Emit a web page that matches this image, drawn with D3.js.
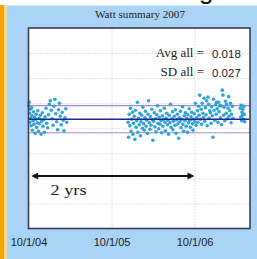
<!DOCTYPE html>
<html>
<head>
<meta charset="utf-8">
<script src="https://cdn.jsdelivr.net/npm/d3@7"></script>
<style>
  body { margin: 0; background: #fff; }
  svg { display: block; }
</style>
</head>
<body>
<div id="chart"></div>
<script>
var width = 257,
    height = 259;

// chart values
var chartTitle = 'Watt summary 2007';
var startDate = new Date(2004, 9, 1);
var endDate = new Date(2007, 5, 2);
var tickDates = [new Date(2004, 9, 1), new Date(2005, 9, 1), new Date(2006, 9, 1)];
var tickLabels = ['10/1/04', '10/1/05', '10/1/06'];
var gridValues = [-0.15, -0.1, -0.05, 0, 0.05, 0.1, 0.15];
var avgAll = 0.018;
var sdAll = 0.027;

// [days since 10/1/04, watt]
var winterSamples = [
  [1,0.045],[3,0.052],[5,0.030],[6,0.012],[8,0.038],[10,0.020],[12,0.005],[14,0.041],
  [15,0.025],[17,-0.004],[20,0.015],[22,0.033],[24,0.008],[27,0.022],[29,-0.010],[31,0.018],
  [34,0.028],[36,0.002],[39,0.011],[41,0.035],[44,-0.006],[46,0.020],[49,0.009],[52,0.026],
  [55,-0.012],[58,0.014],[61,0.031],[64,0.004],[67,0.017],[70,-0.008],[73,0.023],[77,0.040],
  [80,0.010],[84,0.001],[88,0.027],[92,0.048],[96,0.055],[100,0.036],[104,0.019],[108,0.006],
  [112,0.044],[116,0.058],[120,0.029],[124,0.013],[128,-0.003],[132,0.037],[136,0.050],[140,0.024],
  [144,0.007],[148,0.032],[152,0.016],[156,-0.005],[160,0.021],[164,0.039],[168,0.012]
];

var mainSamples = [
  [438,0.012],[440,-0.018],[443,0.028],[446,0.005],[449,0.040],[451,-0.006],[454,0.018],[457,0.032],
  [459,-0.012],[462,0.010],[465,0.024],[468,-0.022],[470,0.036],[473,0.002],[476,0.015],[479,0.052],
  [481,-0.008],[484,0.020],[487,0.007],[490,0.030],[492,-0.015],[495,0.013],[498,0.026],[501,0.000],
  [503,0.042],[506,0.009],[509,-0.004],[512,0.021],[514,0.034],[517,0.004],[520,0.016],[523,-0.010],
  [525,0.028],[528,0.055],[531,0.011],[534,-0.002],[536,0.023],[539,0.006],[542,0.038],[545,0.017],
  [547,-0.024],[550,0.014],[553,0.031],[556,0.003],[558,0.019],[561,-0.007],[564,0.027],[567,0.045],
  [569,0.010],[572,-0.001],[575,0.022],[578,0.008],[580,0.035],[583,0.015],[586,-0.009],[589,0.025],
  [591,0.004],[594,0.018],[597,0.040],[600,0.012],[602,-0.005],[605,0.020],[608,0.030],[611,0.007],
  [613,0.016],[616,-0.012],[619,0.026],[622,0.011],[624,0.048],[627,0.002],[630,0.019],[633,0.033],
  [635,-0.003],[638,0.014],[641,0.024],[644,0.006],[646,0.037],[649,-0.010],[652,0.017],[655,0.028],
  [657,0.009],[660,-0.020],[663,0.021],[666,0.013],[668,0.034],[671,0.001],[674,0.018],[677,0.043],
  [679,0.008],[682,-0.006],[685,0.025],[688,0.015],[690,0.031],[693,0.004],[696,0.020],[699,-0.008],
  [701,0.027],[704,0.011],[707,0.039],[710,0.016],[712,0.002],[715,0.023],[718,0.032],[721,0.009],
  [723,-0.004],[726,0.018],[729,0.029],[732,0.013],[734,0.050],[737,0.006],[740,0.021],[743,0.035],
  [745,0.012],[748,0.044],[750,0.026],[753,0.066],[756,0.018],[759,0.038],[761,0.008],[764,0.050],
  [767,0.030],[770,0.022],[772,0.060],[775,0.014],[778,0.041],[781,0.027],[783,0.055],[786,0.005],
  [789,0.062],[792,0.048],[794,0.020],[797,0.035],[800,0.031],[803,0.010],[805,0.043],[808,0.025],
  [811,-0.018],[814,0.058],[816,0.036],[819,0.016],[822,0.047],[825,0.028],[827,0.052],[830,0.039],
  [833,0.012],[836,0.052],[838,0.033],[841,0.045],[844,0.021],[847,0.045],[849,0.007],[852,0.076],
  [855,0.066],[858,0.026],[860,0.042],[863,0.015],[866,0.054],[869,0.030],[871,0.048],[874,0.019],
  [877,0.040],[880,0.063],[882,0.024],[885,0.035],[888,0.050],[891,0.011],[893,0.028],[896,0.044],
  [899,0.020]
];

var springSamples = [
  [931,0.040],[933,0.022],[935,0.046],[937,0.015],[939,0.032],[941,0.026],
  [943,0.038],[945,0.018],[947,0.044],[949,0.028],[951,0.013]
];

var plot = {left: 28.5, right: 250, top: 28, bottom: 228.5};

var svg = d3.select('#chart')
    .append('svg')
    .attr('width', width)
    .attr('height', height);

// slide background
svg.append('rect')
    .attr('width', width).attr('height', height)
    .attr('fill', '#ffffff');
svg.append('rect')
    .attr('x', 7).attr('y', 5.5)
    .attr('width', width - 7).attr('height', height - 5.5)
    .attr('fill', '#a9d4f7');
svg.append('rect')
    .attr('x', 0).attr('y', 5)
    .attr('width', 4.5).attr('height', height - 5)
    .attr('fill', '#f7a600');
svg.append('rect')
    .attr('x', 4.5).attr('y', 5)
    .attr('width', 2.5).attr('height', height - 5)
    .attr('fill', '#f6dc9a');
// slide heading, mostly above the crop
svg.append('text')
    .attr('x', 199).attr('y', -1)
    .style('font-family', 'Liberation Sans, Arial, sans-serif')
    .style('font-size', '26px')
    .attr('fill', '#111')
    .text('g');

var x = d3.scaleTime()
    .domain([startDate, endDate])
    .range([plot.left, plot.right]);

var y = d3.scaleLinear()
    .domain([-0.2, 0.2])
    .range([plot.bottom, plot.top]);

var day = d => d3.timeDay.offset(startDate, d[0]);

svg.append('rect')
    .attr('x', plot.left).attr('y', plot.top)
    .attr('width', plot.right - plot.left)
    .attr('height', plot.bottom - plot.top)
    .attr('fill', '#ffffff');

// grid
var yGrid = svg.append('g')
    .attr('transform', 'translate(' + plot.left + ',0)')
    .call(d3.axisLeft(y).tickValues(gridValues)
        .tickSize(-(plot.right - plot.left)).tickFormat(''));
var xGrid = svg.append('g')
    .attr('transform', 'translate(0,' + plot.bottom + ')')
    .call(d3.axisBottom(x).tickValues(tickDates.slice(1))
        .tickSize(-(plot.bottom - plot.top)).tickFormat(''));
[yGrid, xGrid].forEach(g => {
    g.select('.domain').remove();
    g.selectAll('line')
        .attr('stroke', '#c4c4c4')
        .attr('stroke-width', 1)
        .attr('stroke-dasharray', '1,2');
});

// sd band and mean
svg.selectAll('line.sd')
    .data([avgAll + sdAll, avgAll - sdAll])
    .enter()
    .append('line')
    .attr('class', 'sd')
    .attr('x1', plot.left).attr('x2', plot.right)
    .attr('y1', d => y(d)).attr('y2', d => y(d))
    .attr('stroke', '#a08ad8')
    .attr('stroke-width', 1.2);

var samples = winterSamples.concat(mainSamples, springSamples);

svg.selectAll('circle')
    .data(samples)
    .enter()
    .append('circle')
    .attr('cx', d => x(day(d)))
    .attr('cy', d => y(d[1]))
    .attr('r', 1.8)
    .attr('fill', '#1c9ad6')
    .attr('opacity', 0.9);

svg.append('line')
    .attr('x1', plot.left).attr('x2', plot.right)
    .attr('y1', y(avgAll)).attr('y2', y(avgAll))
    .attr('stroke', '#22229a')
    .attr('stroke-width', 1.6);

// frame
svg.append('rect')
    .attr('x', plot.left).attr('y', plot.top)
    .attr('width', plot.right - plot.left)
    .attr('height', plot.bottom - plot.top)
    .attr('fill', 'none')
    .attr('stroke', '#3a3a52')
    .attr('stroke-width', 1.6);

// x tick labels
var xAxis = svg.append('g')
    .attr('transform', 'translate(0,' + plot.bottom + ')')
    .call(d3.axisBottom(x).tickValues(tickDates)
        .tickSize(0).tickPadding(10)
        .tickFormat((d, i) => tickLabels[i]));
xAxis.select('.domain').remove();
xAxis.selectAll('text')
    .style('font-family', 'Liberation Sans, Arial, sans-serif')
    .style('font-size', '11px')
    .attr('fill', '#222');

var serif = 'Liberation Serif, Times New Roman, serif';
var sans = 'Liberation Sans, Arial, sans-serif';

// title
svg.append('text')
    .attr('x', 95).attr('y', 18)
    .attr('textLength', 90)
    .attr('lengthAdjust', 'spacingAndGlyphs')
    .style('font-family', serif)
    .style('font-size', '10px')
    .attr('fill', '#222')
    .text(chartTitle);

// stats text
[['Avg all =', avgAll, 57], ['SD all =', sdAll, 76]].forEach(s => {
    svg.append('text')
        .attr('x', 204).attr('y', s[2])
        .attr('text-anchor', 'end')
        .style('font-family', serif)
        .style('font-size', '13px')
        .attr('fill', '#222')
        .text(s[0]);
    svg.append('text')
        .attr('x', 212).attr('y', s[2] + 0.5)
        .style('font-family', sans)
        .style('font-size', '11.5px')
        .attr('fill', '#222')
        .text(d3.format('.3f')(s[1]));
});

// 2 yrs arrow
var arrowY = 176;
var arrowFrom = x(d3.timeDay.offset(startDate, 12));
var arrowTo = x(tickDates[2]);
svg.append('line')
    .attr('x1', arrowFrom + 4).attr('x2', arrowTo - 4)
    .attr('y1', arrowY).attr('y2', arrowY)
    .attr('stroke', '#111')
    .attr('stroke-width', 2);
svg.append('path')
    .attr('d', 'M' + arrowFrom + ',' + arrowY + 'l7,-3.5v7z' +
               'M' + arrowTo + ',' + arrowY + 'l-7,-3.5v7z')
    .attr('fill', '#111');
svg.append('text')
    .attr('x', 50.5).attr('y', 195)
    .attr('textLength', 36)
    .attr('lengthAdjust', 'spacingAndGlyphs')
    .style('font-family', serif)
    .style('font-size', '15px')
    .attr('fill', '#222')
    .text('2 yrs');
</script>
</body>
</html>
